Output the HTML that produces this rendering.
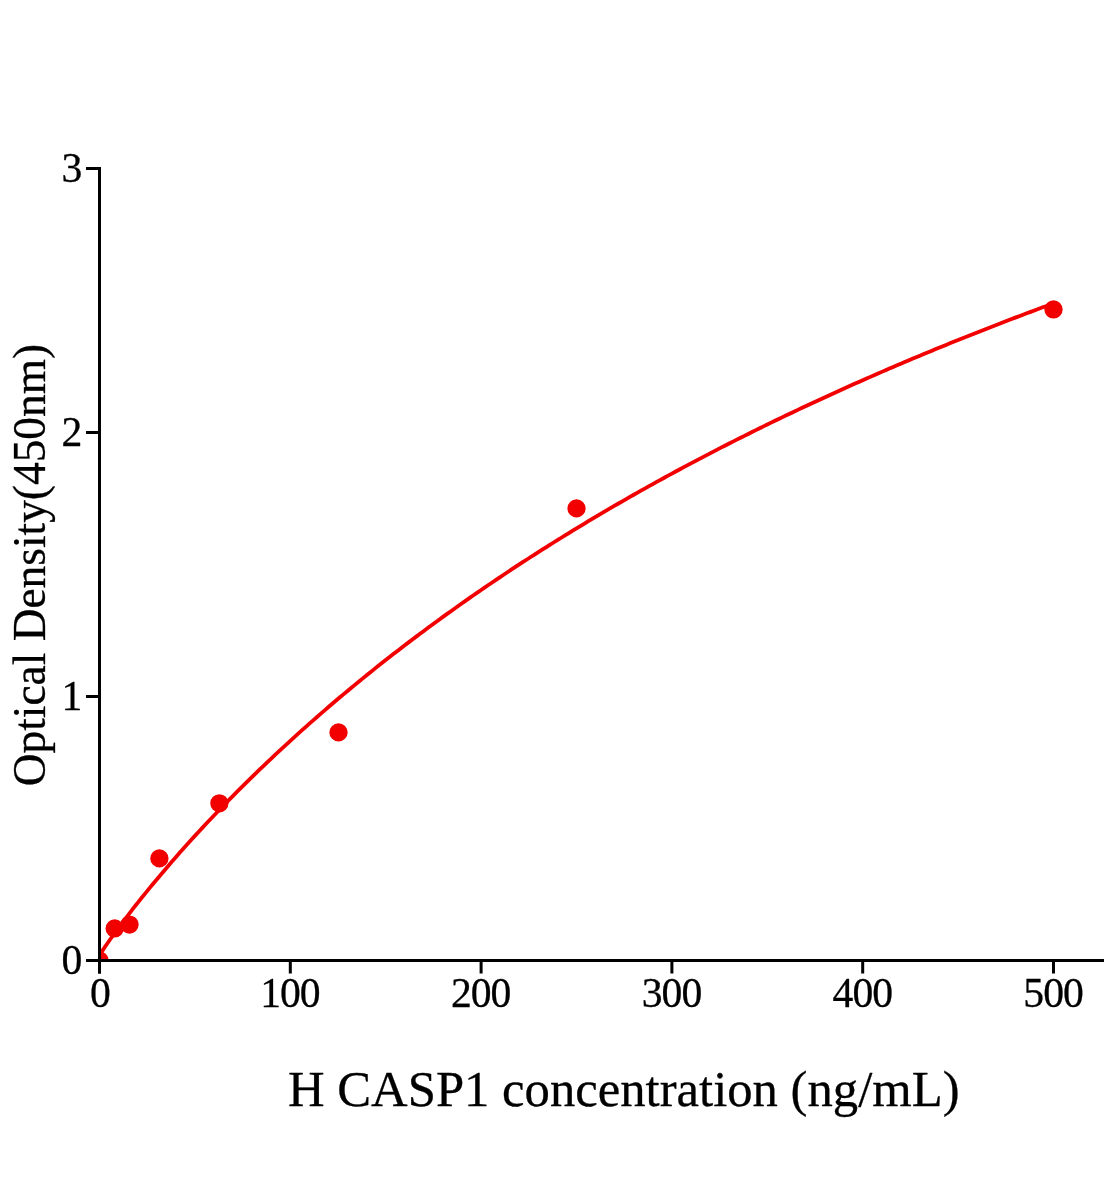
<!DOCTYPE html>
<html lang="en">
<head>
<meta charset="utf-8">
<title>H CASP1 standard curve</title>
<style>
html,body{margin:0;padding:0;background:#fff;}
body{width:1104px;height:1200px;overflow:hidden;}
svg{display:block;}
text{font-family:"Liberation Serif","Times New Roman",serif;fill:#000;stroke:#000;stroke-width:0.3px;stroke-linejoin:round;}
.tick{font-size:41.67px;}
.xl{letter-spacing:-1px;}
</style>
</head>
<body>
<svg width="1104" height="1200" viewBox="0 0 1104 1200">
<rect width="1104" height="1200" fill="#fff"/>
<defs><clipPath id="plot"><rect x="99.5" y="0" width="1100" height="960.5"/></clipPath></defs>
<g clip-path="url(#plot)">
<path d="M99.50,955.56 L101.41,952.35 L103.32,949.39 L105.22,946.53 L107.13,943.73 L109.04,940.98 L110.95,938.27 L112.86,935.59 L114.76,932.94 L116.67,930.32 L118.58,927.72 L120.49,925.15 L122.40,922.60 L124.30,920.07 L126.21,917.55 L128.12,915.06 L130.03,912.58 L131.94,910.12 L133.84,907.68 L135.75,905.25 L137.66,902.84 L141.48,898.06 L145.29,893.33 L149.11,888.65 L152.92,884.02 L156.74,879.44 L160.56,874.91 L164.37,870.41 L168.19,865.97 L172.00,861.56 L175.82,857.19 L179.64,852.86 L183.45,848.57 L187.27,844.31 L191.08,840.09 L194.90,835.90 L198.72,831.75 L202.53,827.63 L206.35,823.55 L210.16,819.50 L213.98,815.47 L217.80,811.48 L221.61,807.52 L225.43,803.59 L229.24,799.68 L233.06,795.81 L236.88,791.96 L240.69,788.14 L244.51,784.35 L248.32,780.59 L252.14,776.85 L255.96,773.13 L259.77,769.45 L263.59,765.78 L267.40,762.15 L271.22,758.53 L275.04,754.94 L278.85,751.38 L282.67,747.83 L286.48,744.32 L290.30,740.82 L294.12,737.35 L297.93,733.89 L301.75,730.46 L305.56,727.06 L309.38,723.67 L313.20,720.30 L317.01,716.96 L320.83,713.64 L324.64,710.33 L328.46,707.05 L332.28,703.78 L336.09,700.54 L339.91,697.32 L343.72,694.11 L347.54,690.93 L351.36,687.76 L355.17,684.61 L358.99,681.48 L362.80,678.37 L366.62,675.27 L370.44,672.20 L374.25,669.14 L378.07,666.10 L381.88,663.07 L385.70,660.07 L389.52,657.08 L393.33,654.10 L397.15,651.15 L400.96,648.21 L404.78,645.28 L408.60,642.38 L412.41,639.49 L416.23,636.61 L420.04,633.75 L423.86,630.91 L427.68,628.08 L431.49,625.26 L435.31,622.46 L439.12,619.68 L442.94,616.91 L446.76,614.16 L450.57,611.42 L454.39,608.69 L458.20,605.98 L462.02,603.28 L465.84,600.60 L469.65,597.93 L473.47,595.27 L477.28,592.63 L481.10,590.00 L484.92,587.39 L488.73,584.79 L492.55,582.20 L496.36,579.62 L500.18,577.06 L504.00,574.51 L507.81,571.98 L511.63,569.45 L515.44,566.94 L519.26,564.44 L523.08,561.95 L526.89,559.48 L530.71,557.02 L534.52,554.57 L538.34,552.13 L542.16,549.70 L545.97,547.28 L549.79,544.88 L553.60,542.49 L557.42,540.11 L561.24,537.74 L565.05,535.38 L568.87,533.03 L572.68,530.70 L576.50,528.37 L580.32,526.06 L584.13,523.76 L587.95,521.47 L591.76,519.18 L595.58,516.91 L599.40,514.65 L603.21,512.40 L607.03,510.16 L610.84,507.93 L614.66,505.72 L618.48,503.51 L622.29,501.31 L626.11,499.12 L629.92,496.94 L633.74,494.77 L637.56,492.61 L641.37,490.46 L645.19,488.32 L649.00,486.19 L652.82,484.07 L656.64,481.96 L660.45,479.85 L664.27,477.76 L668.08,475.68 L671.90,473.60 L675.72,471.54 L679.53,469.48 L683.35,467.43 L687.16,465.39 L690.98,463.36 L694.80,461.34 L698.61,459.33 L702.43,457.32 L706.24,455.33 L710.06,453.34 L713.88,451.36 L717.69,449.39 L721.51,447.43 L725.32,445.48 L729.14,443.53 L732.96,441.59 L736.77,439.66 L740.59,437.74 L744.40,435.83 L748.22,433.93 L752.04,432.03 L755.85,430.14 L759.67,428.26 L763.48,426.38 L767.30,424.52 L771.12,422.66 L774.93,420.81 L778.75,418.97 L782.56,417.13 L786.38,415.30 L790.20,413.48 L794.01,411.67 L797.83,409.86 L801.64,408.06 L805.46,406.27 L809.28,404.49 L813.09,402.71 L816.91,400.94 L820.72,399.17 L824.54,397.42 L828.36,395.67 L832.17,393.93 L835.99,392.19 L839.80,390.46 L843.62,388.74 L847.44,387.02 L851.25,385.31 L855.07,383.61 L858.88,381.92 L862.70,380.23 L866.52,378.55 L870.33,376.87 L874.15,375.20 L877.96,373.54 L881.78,371.88 L885.60,370.23 L889.41,368.59 L893.23,366.95 L897.04,365.32 L900.86,363.69 L904.68,362.07 L908.49,360.46 L912.31,358.85 L916.12,357.25 L919.94,355.66 L923.76,354.07 L927.57,352.48 L931.39,350.91 L935.20,349.33 L939.02,347.77 L942.84,346.21 L946.65,344.65 L950.47,343.11 L954.28,341.56 L958.10,340.03 L961.92,338.49 L965.73,336.97 L969.55,335.45 L973.36,333.93 L977.18,332.42 L981.00,330.92 L984.81,329.42 L988.63,327.93 L992.44,326.44 L996.26,324.96 L1000.08,323.48 L1003.89,322.01 L1007.71,320.54 L1011.52,319.08 L1015.34,317.63 L1019.16,316.17 L1022.97,314.73 L1026.79,313.29 L1030.60,311.85 L1034.42,310.42 L1038.24,309.00 L1042.05,307.58 L1045.87,306.16 L1049.68,304.75 L1053.50,303.34" fill="none" stroke="#f20000" stroke-width="3.8" stroke-linejoin="round"/>
<g fill="#f20000">
<circle cx="99.5" cy="960.5" r="9.15"/>
<circle cx="114.7" cy="928.45" r="9.15"/>
<circle cx="129.5" cy="924.55" r="9.15"/>
<circle cx="159.4" cy="858.4" r="9.15"/>
<circle cx="219.4" cy="803.3" r="9.15"/>
<circle cx="338.5" cy="732.4" r="9.15"/>
<circle cx="576.5" cy="508.4" r="9.15"/>
<circle cx="1053.5" cy="309.45" r="9.15"/>
</g>
</g>
<g fill="#000">
<rect x="98" y="167" width="3" height="806.5"/>
<rect x="86" y="959" width="1018" height="3"/>
<rect x="98.00" y="959" width="3" height="14.5"/>
<rect x="288.80" y="959" width="3" height="14.5"/>
<rect x="479.60" y="959" width="3" height="14.5"/>
<rect x="670.40" y="959" width="3" height="14.5"/>
<rect x="861.20" y="959" width="3" height="14.5"/>
<rect x="1052.00" y="959" width="3" height="14.5"/>
<rect x="86" y="959.00" width="14" height="3"/>
<rect x="86" y="695.00" width="14" height="3"/>
<rect x="86" y="431.00" width="14" height="3"/>
<rect x="86" y="167.00" width="14" height="3"/>
</g>
<g class="tick">
<text class="xl" x="99.80" y="1007.2" text-anchor="middle">0</text>
<text class="xl" x="289.90" y="1007.2" text-anchor="middle">100</text>
<text class="xl" x="480.70" y="1007.2" text-anchor="middle">200</text>
<text class="xl" x="671.50" y="1007.2" text-anchor="middle">300</text>
<text class="xl" x="862.30" y="1007.2" text-anchor="middle">400</text>
<text class="xl" x="1053.10" y="1007.2" text-anchor="middle">500</text>
<text x="82.3" y="974.10" text-anchor="end">0</text>
<text x="82.3" y="710.10" text-anchor="end">1</text>
<text x="82.3" y="446.10" text-anchor="end">2</text>
<text x="82.3" y="182.10" text-anchor="end">3</text>
</g>
<text x="288" y="1106" font-size="50.7px">H CASP1 concentration (ng/mL)</text>
<text transform="translate(45.3,786.3) rotate(-90)" font-size="45.4px">Optical Density(450nm)</text>
</svg>
</body>
</html>
